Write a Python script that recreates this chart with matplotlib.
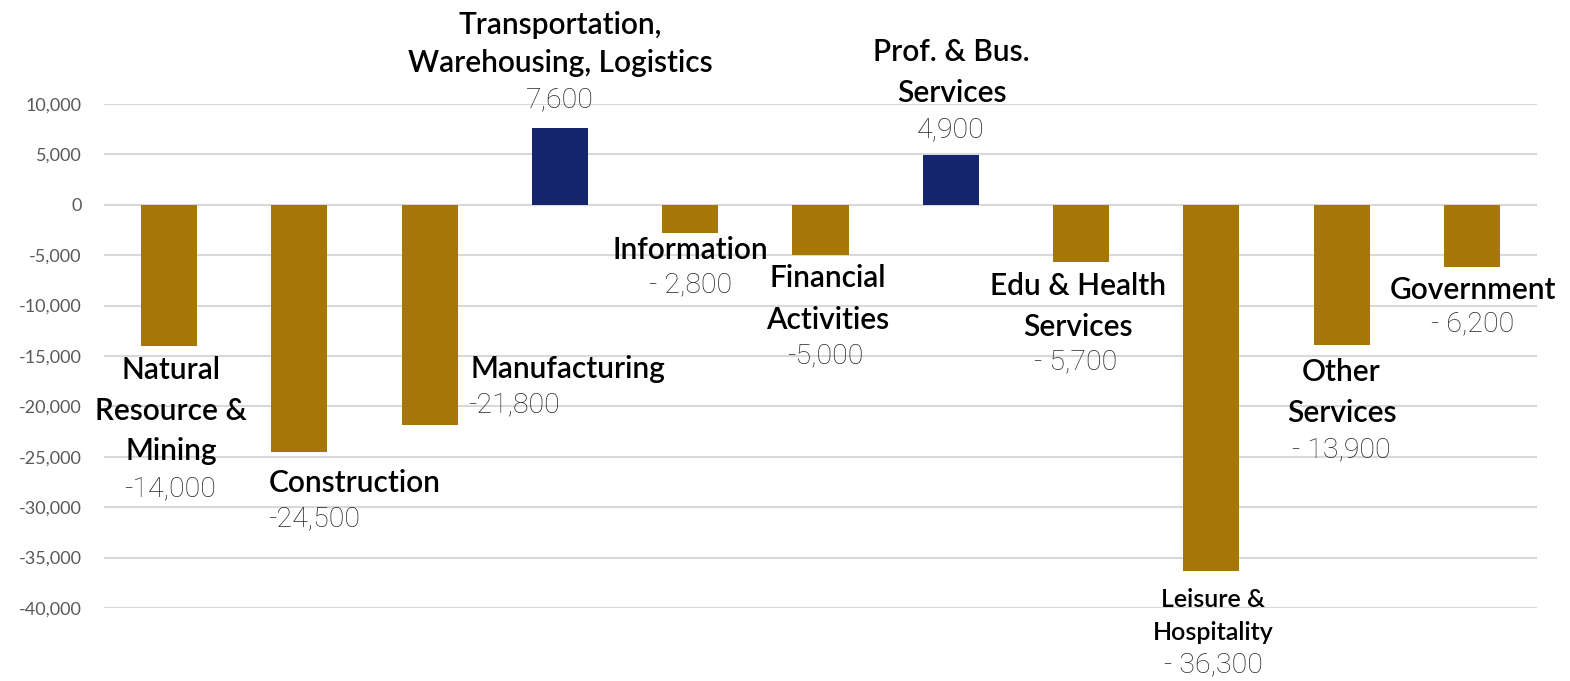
import matplotlib
matplotlib.use("Agg")
import matplotlib.pyplot as plt
from matplotlib.ticker import FuncFormatter

# ---- data ----
categories = ["Natural\nResource &\nMining", "Construction", "Manufacturing",
              "Transportation,\nWarehousing, Logistics", "Information",
              "Financial\nActivities", "Prof. & Bus.\nServices",
              "Edu & Health\nServices", "Leisure &\nHospitality",
              "Other\nServices", "Government"]
values = [-14000, -24500, -21800, 7600, -2800, -5000, 4900, -5700, -36300, -13900, -6200]
value_labels = ["-14,000", "-24,500", "-21,800", "7,600", "- 2,800", "-5,000",
                "4,900", "- 5,700", "- 36,300", "- 13,900", "- 6,200"]
y_ticks = [-40000, -35000, -30000, -25000, -20000, -15000, -10000, -5000, 0, 5000, 10000]

# ---- layout (label offsets in pixels from bar centre at zero line) ----
name_pos = [(2, -206, 'center'), (-31, -278, 'left'), (41, -164, 'left'), (0, 161, 'center'),
            (0, -45, 'center'), (7, -94, 'center'), (1, 132, 'center'), (-3, -102, 'center'),
            (2, -411, 'center'), (0, -188, 'center'), (1, -85, 'center')]
value_pos = [(1, -284, 'center'), (-31, -314, 'left'), (38, -200, 'left'), (0, 105, 'center'),
             (0, -80, 'center'), (5, -151, 'center'), (0, 75, 'center'), (-5, -157, 'center'),
             (2, -460, 'center'), (0, -245, 'center'), (1, -119, 'center')]
name_sizes = [21.5, 21.5, 21.5, 21.5, 21.5, 21.5, 21.5, 21.5, 18, 21.5, 21.5]
name_spacing = [1.55, 1.55, 1.55, 1.45, 1.55, 1.6, 1.55, 1.55, 1.55, 1.55, 1.55]

GOLD = '#A67708'
NAVY = '#16266E'

fig = plt.figure(figsize=(15.7, 6.81), dpi=100)
ax = fig.add_axes([104/1570, 1-608/681, (1537-104)/1570, (608-104)/681])

x = list(range(len(categories)))
colors = [NAVY if v > 0 else GOLD for v in values]
ax.bar(x, values, width=0.43, color=colors, zorder=3)

ax.set_xlim(-0.5, len(categories) - 0.5)
ax.set_ylim(-40000, 10000)
ax.set_yticks(y_ticks)
ax.yaxis.set_major_formatter(FuncFormatter(lambda v, p: f"{int(v):,}"))
ax.tick_params(axis='y', length=0, pad=16, labelsize=13, labelcolor='#595959')
ax.tick_params(axis='x', length=0, labelbottom=False)
for lbl in ax.get_yticklabels():
    lbl.set_fontfamily('Lato')
ax.grid(axis='y', color='#D9D9D9', linewidth=1.5, zorder=0)
for s in ax.spines.values():
    s.set_visible(False)

for i, (name, vl) in enumerate(zip(categories, value_labels)):
    dx, dy, ha = name_pos[i]
    ax.annotate(name, xy=(i, 0), xytext=(dx, dy), textcoords='offset pixels',
                ha=ha, va='center', multialignment=ha, fontsize=name_sizes[i],
                family='Lato', weight='semibold', color='black',
                linespacing=name_spacing[i], annotation_clip=False)
    dx, dy, ha = value_pos[i]
    ax.annotate(vl, xy=(i, 0), xytext=(dx, dy), textcoords='offset pixels',
                ha=ha, va='center', fontsize=20.5, family='Roboto', weight='light',
                color='#262626', annotation_clip=False)

fig.savefig('out.png', dpi=100)
